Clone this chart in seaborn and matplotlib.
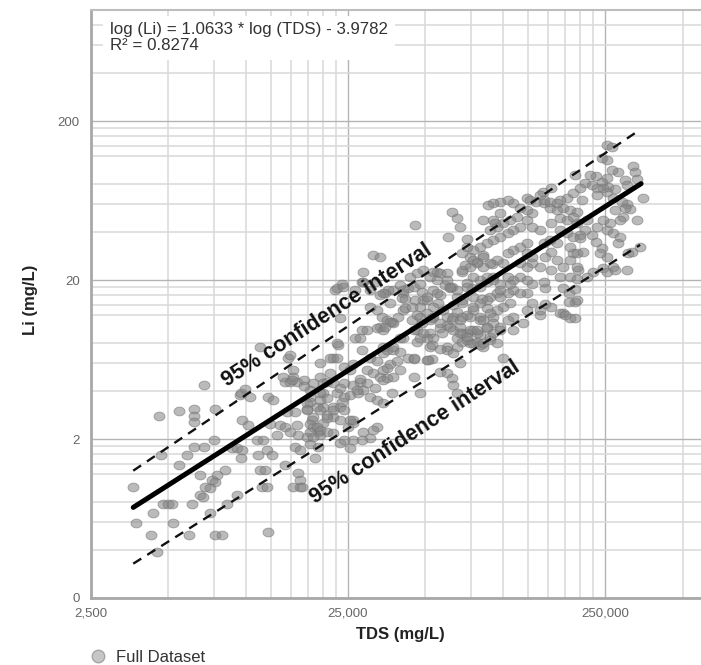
import numpy as np
import matplotlib
matplotlib.use("Agg")
import matplotlib.pyplot as plt
from matplotlib.lines import Line2D
from matplotlib.path import Path
from matplotlib.ticker import FixedLocator, FixedFormatter, NullFormatter
import pandas as pd
import seaborn as sns

# ---------------- data ----------------
TDS = [
    6900, 4600, 5500, 6300, 6300, 6300, 7600, 9500, 9900, 10400, 12200, 12800, 14200, 14900, 15200,
    9700, 4700, 5500, 5900, 6300, 6900, 7500, 6640, 7700, 7400, 7600, 8300, 6940, 7260, 6640, 6800,
    6200, 4750, 5000, 5150, 3640, 3740, 4360, 5200, 4280, 4520, 6020, 7600, 8100, 12200, 7260, 8450,
    9250, 8850, 9250, 9700, 9600, 11060, 11650, 11170, 12100, 12650, 10200, 12430, 13250, 13600,
    11360, 11880, 11600, 12100, 15200, 16260, 15950, 14200, 15550, 15950, 14200, 14870, 15800, 14500,
    15550, 17300, 18100, 18300, 19100, 20000, 20700, 17300, 19100, 18600, 20000, 17800, 20000, 14000,
    15200, 15800, 9600, 11360, 14600, 15100, 16900, 19450, 21900, 22900, 23270, 22250, 23700, 28600,
    28600, 31300, 33300, 26600, 32400, 33300, 37400, 37100, 34200, 45600, 63500, 66400, 68200, 61200,
    72600, 22650, 23900, 28300, 34800, 40900, 40500, 41700, 48500, 55500, 60700, 69400, 59600, 62300,
    30400, 33900, 35500, 36400, 40900, 45600, 49000, 47600, 28300, 32400, 34200, 37400, 40900, 46400,
    46400, 53300, 55800, 66400, 69400, 60700, 64000, 14870, 22700, 21300, 52100, 52100, 60700, 66400,
    69400, 34200, 26600, 31800, 30400, 33300, 35800, 39800, 42800, 43600, 46400, 49000, 53500, 55500,
    71300, 74600, 79300, 83800, 90600, 50700, 53500, 57000, 63500, 66400, 72600, 76000, 81600, 86800,
    91600, 76700, 83000, 89200, 94900, 41700, 44300, 39100, 36400, 34800, 44300, 46400, 48500, 50700,
    52800, 63500, 66400, 68200, 72600, 76700, 81600, 86800, 91600, 57000, 60700, 64000, 68200, 72600,
    76700, 81600, 86800, 91600, 50700, 53500, 58000, 66400, 69400, 74600, 79300, 83800, 89200, 94900,
    60700, 64000, 52800, 57000, 47600, 35500, 37400, 39800, 42800, 45000, 52800, 36400, 38800, 27800,
    29700, 28300, 30400, 32400, 26100, 24000, 25500, 22700, 21300, 19450, 20700, 18300, 29700, 31300,
    33300, 35500, 37400, 45000, 24000, 26100, 27800, 29700, 31800, 22700, 24000, 25500, 27300, 19450,
    20700, 17800, 19000, 17300, 21900, 23300, 21900, 20700, 28600, 30400, 32400, 34200, 37100, 17800,
    19000, 17800, 19450, 20700, 24900, 26100, 23300, 26100, 28600, 30400,
    254000, 266000, 244000, 254000, 320000, 327000, 333000, 299000, 305000, 350000, 333000, 305000,
    313000, 294000, 286000, 280000, 266000, 230000, 244000, 254000, 257000, 246000, 232000, 219000,
    209000, 222000, 200000, 191000, 233000, 254000, 273000, 268000, 292000, 299000, 273000, 261000,
    246000, 233000, 254000, 268000, 280000, 286000, 308000, 318000, 342000, 305000, 244000, 254000,
    268000, 246000, 225000, 213000, 196000, 187000, 205000, 230000, 222000, 209000, 200000, 195000,
    213000, 178000, 187000, 167000, 154000, 143000, 139700, 144000, 152700, 163000, 172000, 182700,
    195000, 204000, 167000, 178000, 187000, 154000, 167000, 178000, 187000, 200000, 182700, 195000,
    182700, 195000, 172000, 163000, 154000, 167000, 182700, 195000, 172000, 181000, 191000, 191000,
    181000, 172000, 182700, 191000, 139700, 146000, 154000, 146000, 144000, 130000, 139700, 130000,
    124000, 116700, 124000, 130000, 124000, 116700, 110000, 104500, 100000, 144000, 152700, 163000,
    154000, 146000, 139700, 130000, 124000, 116700, 110000, 104500, 97600, 130000, 124000, 116700,
    110000, 104500, 97600, 91500, 87500, 124000, 128000, 135000, 144000, 152700, 163000, 113500,
    106800, 100000, 95000, 89200, 97600, 91500, 83800, 91500, 86800, 81600, 76700, 72600, 69400,
    95000, 89200, 83800, 79300, 74600, 69400, 76700, 83800, 116700, 124000, 110000, 104500, 97600,
    91500, 86800, 81600, 76700, 72600, 124000, 116700, 110000, 104500, 97600, 86800, 81600, 76700,
    74600, 81600, 106800, 100000, 95000, 89200, 83800, 91500, 97600, 110000, 104500, 79300, 74600,
    72600, 76700, 81600, 254000, 273000, 239000, 93300, 34200, 40900, 45000, 47600, 52100, 57000,
    60700, 62300, 55500, 50700, 53500, 58700, 64000, 69400, 47600, 52100, 57000, 62300, 69400, 97600,
    106800, 45000, 49000, 39800, 37400, 45000, 50700, 34200, 68200, 72600, 79300, 86800, 83800, 89200,
    97600, 110000, 100000, 120000, 124000, 130000, 139700, 167000, 174700, 195000,
    16260, 16600, 17800, 16260, 18300, 19450, 21900, 24000, 25500, 28300, 32400, 31300, 25500, 23300,
    47600, 57000, 60700, 63500, 64000, 66400, 68200, 51200, 35500, 39800, 34200, 27800, 27000, 23700,
    26100, 16900, 17800, 19450, 19450, 17300, 18300, 21900, 24000, 20000, 21900, 23300,
]

LI = [
    4.4, 2.8, 3.0, 3.1, 2.8, 2.55, 3.1, 3.8, 4.1, 3.7, 3.7, 3.5, 4.55, 4.55, 5.4,
    2.63, 1.59, 1.37, 1.59, 1.78, 1.78, 1.97, 1.19, 1.19, 1.10, 1.07, 1.28, 1.0, 0.98, 0.89, 0.86,
    0.78, 0.78, 0.78, 0.78, 1.0, 0.59, 0.68, 0.59, 0.50, 0.39, 0.50, 0.50, 0.50, 0.52, 0.68, 0.78,
    0.89, 1.75, 1.75, 1.71, 1.52, 1.97, 1.97, 1.59, 1.71, 1.59, 2.45, 2.5, 2.12, 2.45,
    1.28, 1.28, 1.0, 1.0, 1.0, 1.0, 1.22, 1.37, 1.78, 2.12, 2.38, 2.22, 2.45, 2.95,
    2.95, 3.37, 2.63, 2.38, 2.22, 2.52, 2.83, 2.05, 1.78, 1.52, 3.2, 4.07, 3.9, 4.9,
    4.9, 4.55, 3.9, 7.6, 6.5, 4.7, 4.7, 6.0, 6.5, 7.8, 11.5, 17.3, 19.0, 22.4,
    19.4, 28.7, 28.0, 8.7, 12.9, 10.2, 17.3, 10.9, 7.6, 44.4, 53.7, 49.3, 43.0, 37.4,
    36.3, 17.9, 18.1, 19.4, 16.5, 16.5, 15.5, 15.3, 16.8, 22.4, 22.1, 22.4, 18.6, 17.9,
    13.5, 11.7, 11.2, 14.4, 12.9, 15.0, 15.0, 13.5, 9.7, 10.0, 9.7, 10.8, 8.65, 9.7,
    8.1, 11.7, 14.4, 15.6, 15.0, 11.7, 11.7, 6.75, 8.0, 6.5, 9.3, 7.6, 7.6, 7.6,
    9.3, 7.0, 17.3, 19.4, 17.3, 16.1, 17.3, 18.6, 17.9, 21.0, 22.0, 23.1, 22.4, 20.0,
    24.9, 27.8, 26.0, 28.7, 25.3, 15.0, 17.3, 16.1, 18.1, 17.3, 19.2, 17.9, 18.1, 19.4,
    20.8, 15.6, 15.3, 15.6, 16.5, 13.3, 13.5, 11.7, 10.9, 10.2, 11.2, 12.0, 10.8, 12.4,
    11.5, 11.2, 12.6, 11.2, 12.0, 12.9, 11.7, 13.3, 11.7, 10.0, 10.4, 9.7, 10.2, 9.3,
    9.7, 9.0, 10.0, 9.3, 8.6, 8.7, 9.3, 8.6, 8.1, 8.0, 8.1, 7.6, 8.4, 8.0,
    7.3, 6.95, 7.8, 7.4, 8.6, 7.3, 7.3, 7.1, 6.5, 6.4, 6.4, 5.9, 6.2, 8.6,
    9.7, 7.3, 6.5, 6.2, 5.9, 5.7, 5.4, 6.5, 5.2, 4.9, 4.55, 4.5, 5.4, 5.2,
    4.9, 4.85, 4.9, 4.9, 4.5, 4.37, 4.55, 4.5, 4.2, 3.9, 3.7, 3.8, 3.9, 3.9,
    3.6, 3.4, 3.2, 3.1, 3.2, 3.2, 2.75, 2.7, 4.07, 3.7, 3.5, 3.35, 3.9, 2.5,
    2.38, 2.2, 2.12, 2.2, 2.38, 2.52, 1.9, 1.97, 2.2, 2.03,
    141, 137, 117, 114, 105, 95, 87, 85, 79, 66, 48, 60,
    56, 49.5, 47.7, 95, 98, 90, 83, 88, 77, 76, 76, 91.5,
    81, 79, 76, 91.5, 68.5, 71.5, 75, 66, 62, 57, 55, 46,
    47.7, 43, 41.3, 39.5, 34.2, 37.2, 29.6, 30.1, 32.2, 23.1, 31.8, 27.8,
    24.1, 23.8, 22.4, 20.8, 23.1, 29.6, 30.1, 34.7, 38.4, 41.3, 38.4, 45.6,
    47.7, 66, 70.5, 63.7, 76, 71.5, 68.5, 61, 57, 55, 57, 55,
    53.5, 63.7, 49, 47.7, 49.5, 45.6, 41.3, 39.5, 37.2, 36.8, 32.2, 29.6,
    26.7, 24.3, 24.3, 26.7, 23.1, 20.8, 20.8, 20.4, 17.9, 16.5, 17.6, 14.6,
    14.6, 12.4, 11.6, 11.6, 12.0, 14.2, 13.5, 17.9, 19.4, 19.0, 24.3, 25.6,
    24.3, 25.6, 29.6, 27.8, 34.2, 32.4, 30.9, 29.6, 25.6, 34.2, 35.7, 34.2,
    30.1, 27.8, 41.3, 43.0, 47.7, 43.0, 41.3, 39.5, 37.2, 52.7, 55, 57,
    61, 63.7, 62, 61, 59.3, 66, 63.7, 62, 63.7, 62, 61, 49.5,
    47.7, 46, 43, 41.3, 52.7, 47.7, 47.7, 35.7, 34.2, 32.4, 30.9, 32.4, 29.6,
    26.7, 25.6, 24.3, 25.6, 24.3, 23.1, 26.7, 27.8, 20.8, 20.0, 20.0, 20.8, 19.0,
    20.0, 20.8, 20.0, 20.8, 18.1, 16.5, 16.5, 17.3, 16.5, 15.6, 15.0, 14.4, 13.5,
    11.7, 11.2, 14.4, 13.5, 12.9, 12.4, 11.2, 10.8, 10.2, 11.7, 11.2, 9.3, 9.7,
    8.4, 8.0, 7.8, 22.4, 23.1, 29.6, 45.6, 16.5, 17.3, 18.1, 19.0, 20.8, 22.0,
    20.0, 18.1, 16.5, 15.6, 13.5, 12.9, 13.9, 14.4, 11.7, 11.2, 10.8, 10.2, 11.7, 17.3,
    19.0, 9.7, 9.3, 8.7, 7.6, 6.5, 6.3, 5.4, 9.3, 8.8, 9.7, 10.2, 8.0, 8.8,
    9.7, 9.7, 6.5, 10.8, 12.9, 14.4, 12.9, 12.4, 12.0, 15.0,
    1.10, 1.0, 1.87, 1.71, 2.05, 2.28, 2.17, 1.97, 1.75, 1.97, 2.38, 2.28, 2.63, 2.63,
    3.9, 5.3, 5.2, 4.85, 4.37, 3.9, 6.0, 6.3, 5.6, 5.4, 4.7, 4.8, 4.07, 3.4,
    2.63, 4.3, 3.65, 3.5, 3.04, 3.04, 2.75, 3.04, 3.04, 4.5, 4.5, 4.2,
]

# fitted line and 95% bounds as drawn (log10 Li = slope * log10 TDS + intercept)
FIT = (1.031, -3.802)
CI_UPPER = (1.088, -3.774)
CI_LOWER = (1.017, -4.106)
LINE_START = 3650
FIT_END, UPPER_END, LOWER_END = 345000, 328000, 342000

EQUATION_TEXT = "log (Li) = 1.0633 * log (TDS) - 3.9782\nR\u00b2 = 0.8274"
CI_LABEL = "95% confidence interval"

X_MAJOR = [2500, 25000, 250000]
X_MAJOR_LABELS = ["2,500", "25,000", "250,000"]
X_MINOR = [2500 * k for k in range(2, 10)] + [25000 * k for k in range(2, 10)] + [500000]
Y_MAJOR = [0.2, 2, 20, 200]
Y_MAJOR_LABELS = ["0", "2", "20", "200"]
Y_MINOR = [0.4, 0.6, 0.8, 1.2, 1.4, 1.6, 1.8,
           4, 6, 8, 12, 14, 16, 18,
           40, 60, 80, 120, 140, 160, 180,
           400, 600, 800]
XLIM = (2500, 590000)
YLIM = (0.2, 1000)

# ---------------- plot ----------------
sns.set_theme(style="white")
plt.rcParams["font.family"] = ["Liberation Sans", "DejaVu Sans"]

fig = plt.figure(figsize=(7.01, 6.65), dpi=100)
ax = fig.add_axes([0.1298, 0.1008, 0.8702, 0.8842])
ax.set_xscale("log")
ax.set_yscale("log")
ax.set_xlim(*XLIM)
ax.set_ylim(*YLIM)

# grid
ax.xaxis.set_major_locator(FixedLocator(X_MAJOR))
ax.xaxis.set_major_formatter(FixedFormatter(X_MAJOR_LABELS))
ax.xaxis.set_minor_locator(FixedLocator(X_MINOR))
ax.xaxis.set_minor_formatter(NullFormatter())
ax.yaxis.set_major_locator(FixedLocator(Y_MAJOR))
ax.yaxis.set_major_formatter(FixedFormatter(Y_MAJOR_LABELS))
ax.yaxis.set_minor_locator(FixedLocator(Y_MINOR))
ax.yaxis.set_minor_formatter(NullFormatter())
ax.grid(which="major", color="#b4b4b4", lw=1.0, zorder=0)
ax.grid(which="minor", color="#d9d9d9", lw=1.1, zorder=0)
ax.set_axisbelow(True)
ax.tick_params(which="both", length=0)
ax.tick_params(axis="y", pad=8, labelsize=9.5, labelcolor="#666666")
ax.tick_params(axis="x", pad=7, labelsize=9.5, labelcolor="#666666")

for side in ["left", "bottom"]:
    ax.spines[side].set_color("#a8a8a8")
    ax.spines[side].set_linewidth(2.0)
ax.spines["top"].set_color("#bdbdbd")
ax.spines["top"].set_linewidth(1.5)
ax.spines["right"].set_visible(False)

# scatter with elliptical markers
theta = np.linspace(0, 2 * np.pi, 64)
ellipse = Path(np.c_[np.cos(theta), 0.8 * np.sin(theta)], closed=True)
df = pd.DataFrame({"TDS": TDS, "Li": LI})
sns.scatterplot(data=df, x="TDS", y="Li", ax=ax, marker=ellipse, s=62,
                color="#858585", alpha=0.56, edgecolor="#747474", linewidth=0.7,
                zorder=3, legend=False)

def line_xy(params, end):
    x = np.logspace(np.log10(LINE_START), np.log10(end), 60)
    return x, 10 ** (params[0] * np.log10(x) + params[1])

x, y = line_xy(FIT, FIT_END)
ax.plot(x, y, color="black", lw=3.6, solid_capstyle="round", zorder=5)
for params, end in [(CI_UPPER, UPPER_END), (CI_LOWER, LOWER_END)]:
    x, y = line_xy(params, end)
    ax.plot(x, y, color="#111111", lw=1.7, dashes=(4, 3), zorder=5)

# CI labels
ax.text(20700, 12.0, CI_LABEL, rotation=33, rotation_mode="anchor", ha="center",
        va="center", fontsize=15.5, fontweight="bold", color="#111111", zorder=6)
ax.text(45600, 2.2, CI_LABEL, rotation=33, rotation_mode="anchor", ha="center",
        va="center", fontsize=15.5, fontweight="bold", color="#111111", zorder=6)

# equation box
ax.text(0.031, 0.979, EQUATION_TEXT, transform=ax.transAxes, ha="left", va="top",
        fontsize=12.2, color="#333333", linespacing=1.05, zorder=7,
        bbox=dict(boxstyle="square,pad=0.4", facecolor="white", edgecolor="none"))

# axis labels
ax.set_xlabel("TDS (mg/L)", fontsize=12, fontweight="bold", color="#222222")
ax.set_ylabel("Li (mg/L)", fontsize=12, fontweight="bold", color="#222222")
ax.xaxis.set_label_coords(0.5066, -0.049)
ax.yaxis.set_label_coords(-0.087, 0.507)

# legend
handle = Line2D([], [], marker="o", ls="", ms=9, mfc="#c6c6c6", mec="#a5a5a5", mew=1)
fig.legend([handle], ["Full Dataset"], loc="center left", bbox_to_anchor=(0.1284, 0.012),
           frameon=False, fontsize=12, handlelength=1.0, handletextpad=0.55,
           borderpad=0, borderaxespad=0, labelcolor="#333333")

fig.savefig("out.png", dpi=100)
